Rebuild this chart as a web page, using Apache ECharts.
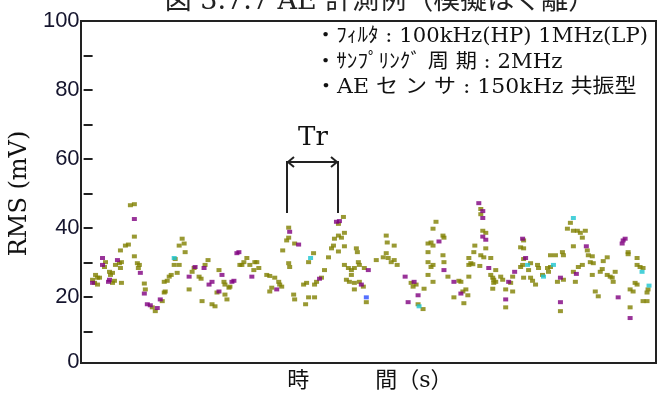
<!DOCTYPE html>
<html>
<head>
<meta charset="utf-8">
<script src="https://cdn.jsdelivr.net/npm/echarts@6/dist/echarts.min.js"></script>
<style>
html, body { margin: 0; padding: 0; background: #fff; }
#chart { width: 662px; height: 397px; }
</style>
</head>
<body>
<div id="chart"></div>
<script>
// texts
var titleText = '図 3.7.7 AE 計測例（模擬はく離）';
var yName = 'RMS (mV)';
var xName = '時　　　間（s）';
var notes = [
    '・ﾌｨﾙﾀ : 100kHz(HP) 1MHz(LP)',
    '・ｻﾝﾌﾟﾘﾝｸﾞ 周 期 : 2MHz',
    '・AE セ ン サ : 150kHz 共振型'
];
var trText = 'Tr';

// axis ticks / labels
var yTickValues = [10, 20, 30, 40, 50, 60, 70, 80, 90, 100];
var yLabelValues = [0, 20, 40, 60, 80, 100];

// points [time (sample), RMS mV], grouped by the dot colour
var olive = [
    [9,25.0],[14,25.6],[22,30.1],[29,27.0],[37,28.4],[37,33.5],[12,26.4],[11,24.1],[14,23.6],[16,25.6],
    [21,28.7],[26,27.3],[27,26.4],[29,24.1],[31,24.7],[32,29.3],[36,29.8],[38,30.1],[38,24.1],[42,34.9],
    [45,35.2],[47,46.6],[51,46.9],[51,37.5],[51,31.8],[54,29.8],[56,29.3],[55,28.4],[61,23.9],[62,22.2],
    [69,17.0],[72,15.9],[79,18.8],[81,21.3],[82,21.6],[81,24.4],[84,24.7],[86,25.9],[88,26.4],[92,31.0],
    [91,29.3],[96,29.3],[94,27.0],[96,34.9],[99,36.9],[101,35.5],[102,33.0],[106,22.2],[109,27.3],[111,28.4],
    [116,25.9],[118,25.3],[119,18.8],[122,29.3],[125,30.7],[129,17.9],[132,17.3],[134,21.3],[136,27.8],[141,24.4],
    [142,23.6],[144,19.3],[142,20.7],[146,22.7],[147,23.0],[157,29.3],[159,29.3],[161,30.1],[164,31.3],[167,29.3],
    [171,27.8],[172,30.1],[176,28.4],[174,30.1],[184,26.4],[187,26.1],[192,25.6],[196,24.4],[197,23.6],[199,23.0],
    [189,22.7],[187,21.6],[206,40.1],[204,36.4],[206,37.2],[212,35.5],[200,33.5],[206,29.8],[207,28.7],[211,20.7],
    [212,19.3],[223,17.9],[226,19.9],[232,19.9],[221,23.6],[224,24.1],[226,30.1],[231,32.7],[232,23.6],[234,24.4],
    [239,25.6],[242,27.8],[256,41.2],[261,43.2],[252,36.9],[256,37.8],[259,37.2],[262,38.6],[249,34.1],[251,34.9],
    [246,31.5],[256,33.2],[262,34.7],[262,29.3],[266,28.4],[269,27.8],[272,28.4],[269,26.4],[274,34.1],[275,33.0],
    [276,30.1],[277,29.3],[264,25.0],[267,24.4],[272,24.1],[277,24.4],[281,23.0],[282,28.4],[272,22.2],[284,18.5],
    [294,30.7],[301,31.5],[304,32.7],[306,31.3],[309,30.1],[312,30.7],[315,29.3],[304,37.8],[305,35.8],[312,34.9],
    [329,24.1],[334,23.6],[331,23.0],[342,22.4],[341,16.5],[336,17.9],[346,35.5],[349,35.8],[351,34.9],[346,33.0],
    [351,39.8],[354,41.8],[361,37.8],[346,30.1],[349,28.7],[351,29.3],[361,32.1],[362,30.1],[366,25.9],[346,26.4],
    [351,24.4],[362,37.2],[377,24.7],[379,24.4],[372,19.9],[381,21.6],[384,22.2],[386,20.5],[382,18.2],[387,29.3],
    [389,29.8],[391,29.5],[387,31.3],[392,33.0],[393,34.9],[387,25.9],[399,45.5],[399,44.0],[401,39.2],[404,38.6],
    [399,32.1],[402,31.5],[398,29.0],[404,34.1],[409,26.4],[411,25.6],[409,31.3],[414,27.8],[412,25.0],[412,24.1],
    [414,24.4],[411,22.4],[419,25.9],[421,25.0],[424,22.2],[424,17.0],[429,24.1],[431,21.6],[431,25.9],[442,36.4],
    [439,34.4],[442,34.1],[442,31.0],[441,29.3],[439,28.7],[449,29.8],[447,27.8],[442,25.6],[449,25.6],[451,24.7],
    [454,23.6],[456,29.3],[457,28.4],[461,26.4],[466,28.4],[469,28.7],[467,27.3],[469,32.1],[474,32.1],[476,24.4],
    [482,25.0],[479,15.9],[481,33.0],[482,32.1],[486,39.8],[489,41.5],[492,39.2],[496,39.2],[499,38.6],[504,39.2],
    [501,37.2],[492,34.7],[506,33.5],[507,32.1],[511,31.8],[509,30.1],[512,29.8],[492,27.3],[494,24.4],[497,28.7],
    [501,29.3],[511,26.4],[514,21.6],[517,20.2],[519,27.3],[521,28.1],[522,30.4],[526,31.5],[526,26.4],[529,25.9],
    [531,25.6],[534,27.3],[532,24.4],[547,33.0],[547,32.4],[556,31.3],[556,29.3],[559,28.7],[562,28.4],[549,22.2],
    [552,21.6],[556,23.6],[554,24.1],[549,17.0],[562,18.8],[566,18.8],[566,21.3],[567,22.2]
];
var purple = [
    [19,31.3],[25,24.4],[34,30.7],[9,24.1],[19,29.3],[26,25.0],[51,42.6],[57,27.0],[61,21.0],[64,17.9],
    [67,17.6],[74,16.8],[77,19.3],[106,25.9],[112,28.7],[121,28.4],[126,23.6],[129,24.4],[136,21.6],[139,26.4],
    [149,24.4],[151,24.7],[154,32.7],[156,33.0],[169,25.9],[207,38.9],[216,35.2],[194,22.2],[237,25.3],[254,41.8],
    [257,42.0],[279,23.6],[286,27.8],[323,25.9],[332,24.4],[336,20.5],[326,18.5],[357,36.1],[362,27.8],[372,24.4],
    [379,21.0],[397,47.2],[401,44.9],[401,42.9],[401,37.5],[404,36.6],[407,28.4],[424,19.3],[427,24.4],[433,27.3],
    [441,36.9],[444,31.3],[479,25.6],[479,18.5],[505,34.7],[495,26.7],[537,19.9],[541,35.5],[542,36.4],[544,36.9],
    [549,13.9]
];
var cyan = [
    [91,31.3],[228,31.3],[337,17.3],[446,29.3],[462,25.9],[472,29.3],[492,42.9],[561,27.3],[568,23.3]
];
var blue = [
    [284,19.9]
];

var serif = "'DejaVu Serif', 'Noto Sans CJK JP', serif";

function dots(name, data, color) {
    return {
        name: name,
        type: 'scatter',
        data: data,
        symbol: 'rect',
        symbolSize: [5, 4],
        itemStyle: { color: color },
        emphasis: { disabled: true },
        silent: true
    };
}

function note(text, y, sx) {
    return {
        type: 'text', x: 315, y: y, scaleX: sx,
        style: { text: text, font: '20px ' + serif, fill: '#111', align: 'left', verticalAlign: 'middle' }
    };
}

var chart = echarts.init(document.getElementById('chart'));

var option = {
    animation: false,
    backgroundColor: '#fff',
    grid: { left: 81, right: 6, top: 21, bottom: 24 },
    xAxis: {
        type: 'value',
        min: 0,
        max: 575,
        name: xName,
        nameLocation: 'middle',
        nameGap: 4,
        nameTextStyle: { fontFamily: serif, fontSize: 22, color: '#111', verticalAlign: 'top' },
        axisLine: { show: false },
        axisTick: { show: false },
        axisLabel: { show: false },
        splitLine: { show: false }
    },
    yAxis: {
        type: 'value',
        min: 0,
        max: 100,
        interval: 10,
        name: yName,
        nameLocation: 'middle',
        nameRotate: 90,
        nameGap: 38,
        nameTextStyle: { fontFamily: serif, fontSize: 24, color: '#111' },
        axisLine: { show: false },
        axisTick: {
            inside: true,
            length: 9,
            customValues: yTickValues,
            lineStyle: { color: '#222', width: 2 }
        },
        axisLabel: {
            margin: 4,
            customValues: yLabelValues,
            fontFamily: "'Liberation Sans', Arial, sans-serif",
            fontSize: 22,
            color: '#15152e',
            formatter: function (v) {
                if (v % 20 !== 0) return '';
                // the original draws 0 a little higher than the scale
                return v === 0 ? '{z|0}' : String(v);
            },
            rich: {
                z: {
                    fontFamily: "'Liberation Sans', Arial, sans-serif",
                    fontSize: 22,
                    color: '#15152e',
                    padding: [0, 0, 8, 0]
                }
            }
        },
        splitLine: { show: false }
    },
    graphic: [
        // frame
        {
            type: 'rect',
            shape: { x: 81, y: 21, width: 575, height: 342 },
            style: { fill: 'transparent', stroke: '#222', lineWidth: 2 },
            z: 10
        },
        // title (cut at the top edge)
        {
            type: 'text',
            x: 380,
            y: 15,
            style: {
                text: titleText,
                font: '27px ' + serif,
                fill: '#222',
                align: 'center',
                verticalAlign: 'bottom'
            }
        },
        // notes
        note(notes[0], 37, 1.06),
        note(notes[1], 63, 1.06),
        note(notes[2], 88, 1.1),
        // Tr bracket
        {
            type: 'text', x: 313, y: 138,
            style: { text: trText, font: '26px ' + serif, fill: '#111', align: 'center', verticalAlign: 'middle' }
        },
        {
            type: 'polyline',
            shape: { points: [[287, 213], [287, 162], [338, 162], [338, 213]] },
            style: { stroke: '#222', lineWidth: 2, fill: null }
        },
        {
            type: 'polyline',
            shape: { points: [[294, 157], [288, 162], [294, 167]] },
            style: { stroke: '#222', lineWidth: 2, fill: null }
        },
        {
            type: 'polyline',
            shape: { points: [[331, 157], [337, 162], [331, 167]] },
            style: { stroke: '#222', lineWidth: 2, fill: null }
        }
    ],
    series: [
        dots('olive', olive, '#7f7f00'),
        dots('purple', purple, '#800080'),
        dots('cyan', cyan, '#1cc4cf'),
        dots('blue', blue, '#2a4cff')
    ]
};

chart.setOption(option);
</script>
</body>
</html>
